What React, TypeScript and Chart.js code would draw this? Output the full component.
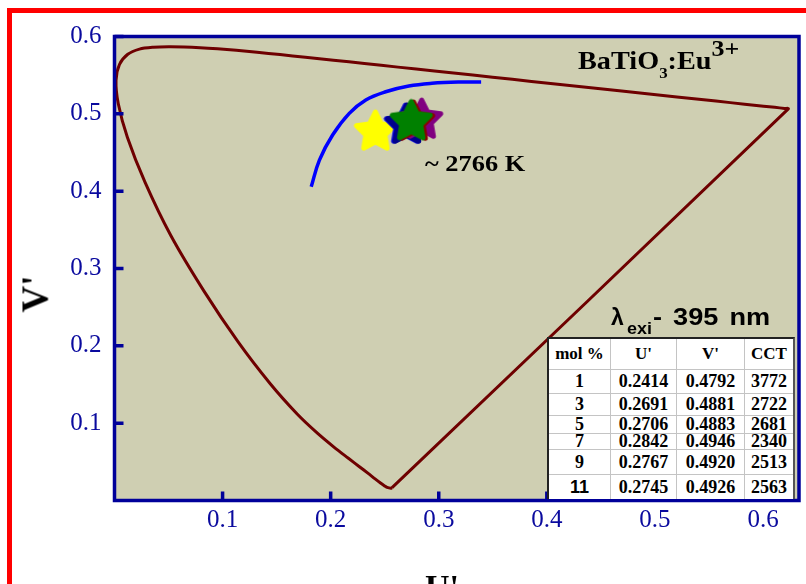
import React, { useEffect, useRef } from 'react';
import { Chart, registerables } from 'chart.js';

Chart.register(...registerables);

// CIE 1976 spectral locus, closed by the purple line
const LOCUS_U = [0.2568, 0.2557, 0.2522, 0.2496, 0.2461, 0.2411, 0.2347, 0.2266, 0.2161, 0.2033, 0.1877, 0.1690, 0.1441, 0.1147, 0.0828, 0.0521, 0.0282, 0.0119, 0.0035, 0.0014, 0.0046, 0.0123, 0.0231, 0.0360, 0.0501, 0.0643, 0.0792, 0.0953, 0.1127, 0.1319, 0.1531, 0.1766, 0.2026, 0.2312, 0.2623, 0.2960, 0.3315, 0.3681, 0.4035, 0.4692, 0.5203, 0.5565, 0.5830, 0.6005, 0.6109, 0.6199, 0.6234, 0.2568];
const LOCUS_V = [0.0166, 0.0159, 0.0169, 0.0191, 0.0226, 0.0279, 0.0350, 0.0437, 0.0549, 0.0688, 0.0871, 0.1119, 0.1510, 0.2044, 0.2708, 0.3427, 0.4117, 0.4698, 0.5131, 0.5432, 0.5638, 0.5770, 0.5837, 0.5861, 0.5868, 0.5865, 0.5856, 0.5841, 0.5821, 0.5796, 0.5766, 0.5732, 0.5694, 0.5651, 0.5604, 0.5554, 0.5501, 0.5446, 0.5393, 0.5296, 0.5219, 0.5165, 0.5125, 0.5099, 0.5084, 0.5070, 0.5065, 0.0166];

// Planckian (blue) arc
const PLANCK_U = [0.182, 0.1896, 0.2018, 0.2172, 0.2325, 0.2509, 0.2723, 0.2937, 0.3182, 0.3392];
const PLANCK_V = [0.4057, 0.4402, 0.4726, 0.5006, 0.5179, 0.5286, 0.5360, 0.5395, 0.5411, 0.5411];

// Samples
const MOL = ['1', '3', '5', '7', '9', '11'];
const SAMPLE_U = [0.2414, 0.2691, 0.2706, 0.2842, 0.2767, 0.2745];
const SAMPLE_V = [0.4792, 0.4881, 0.4883, 0.4946, 0.4920, 0.4926];
const SAMPLE_CCT = [3772, 2722, 2681, 2340, 2513, 2563];
const STAR_COLORS = ['#ffff00', '#0000cd', '#00008b', '#800080', '#8b0000', '#008000'];

const X_TICKS = [0.1, 0.2, 0.3, 0.4, 0.5, 0.6];
const Y_TICKS = [0.1, 0.2, 0.3, 0.4, 0.5, 0.6];
const TABLE_HEAD = ['mol %', "U'", "V'", 'CCT'];

const SERIF = "'Liberation Serif', 'Times New Roman', serif";
const SANS = "'Liberation Sans', Arial, sans-serif";
const AXIS_COLOR = '#00009a';
const TICK_TEXT = '#0a0a9e';
const PLOT_BG = '#cfcfb2';
const LOCUS_COLOR = '#6e0000';

// canvas is wider than the page; the overflow is clipped by the frame wrapper
const W = 822;
const H = 640;
const PLOT = { left: 114.5, top: 36.5, right: 798.8, bottom: 500.5 };

function makeStar(color: string) {
  const c = document.createElement('canvas');
  c.width = 50;
  c.height = 50;
  const g = c.getContext('2d')!;
  g.translate(25, 27);
  g.beginPath();
  for (let i = 0; i < 10; i++) {
    const r = i % 2 === 0 ? 20 : 10;
    const a = -Math.PI / 2 + (i * Math.PI) / 5;
    g.lineTo(r * Math.cos(a), r * Math.sin(a));
  }
  g.closePath();
  g.fillStyle = color;
  g.strokeStyle = color;
  g.lineWidth = 5;
  g.lineJoin = 'round';
  g.fill();
  g.stroke();
  return c;
}

const framePlugin = {
  id: 'frame',
  beforeDraw(chart: any) {
    const { ctx, chartArea: a } = chart;
    ctx.save();
    ctx.fillStyle = PLOT_BG;
    ctx.fillRect(a.left, a.top, a.right - a.left, a.bottom - a.top);
    ctx.restore();
  },
  afterDatasetsDraw(chart: any) {
    const { ctx, chartArea: a, scales } = chart;
    ctx.save();
    ctx.strokeStyle = AXIS_COLOR;
    ctx.lineWidth = 3.5;
    ctx.strokeRect(a.left, a.top, a.right - a.left, a.bottom - a.top);
    ctx.beginPath();
    X_TICKS.forEach((v) => {
      const px = scales.x.getPixelForValue(v);
      ctx.moveTo(px, a.bottom);
      ctx.lineTo(px, a.bottom - 9);
    });
    Y_TICKS.forEach((v) => {
      const py = scales.y.getPixelForValue(v);
      ctx.moveTo(a.left, py);
      ctx.lineTo(a.left + 9, py);
    });
    ctx.stroke();
    ctx.restore();
  },
};

export default function App() {
  const ref = useRef<HTMLCanvasElement>(null);

  useEffect(() => {
    const canvas = ref.current!;
    const stars = STAR_COLORS.map(makeStar);
    const chart = new Chart(canvas, {
      type: 'scatter',
      data: {
        datasets: [
          {
            label: 'Samples',
            data: SAMPLE_U.map((u, i) => ({ x: u, y: SAMPLE_V[i] })),
            pointStyle: stars as any,
            pointRadius: 22,
            showLine: false,
            order: 1,
          },
          {
            label: 'Planckian locus',
            data: PLANCK_U.map((u, i) => ({ x: u, y: PLANCK_V[i] })),
            showLine: true,
            borderColor: '#0000ff',
            borderWidth: 3.5,
            pointRadius: 0,
            tension: 0.4,
            order: 2,
          },
          {
            label: 'Spectral locus',
            data: LOCUS_U.map((u, i) => ({ x: u, y: LOCUS_V[i] })),
            showLine: true,
            borderColor: LOCUS_COLOR,
            borderWidth: 3,
            pointRadius: 0,
            tension: 0.3,
            borderJoinStyle: 'round',
            order: 3,
          },
        ] as any,
      },
      options: {
        animation: false,
        responsive: false,
        devicePixelRatio: 1,
        events: [],
        layout: { padding: { left: 0, top: PLOT.top, right: 7.2, bottom: 0 } },
        plugins: { legend: { display: false }, tooltip: { enabled: false } },
        scales: {
          x: {
            type: 'linear',
            min: 0,
            max: 0.6333,
            afterBuildTicks: (s: any) => {
              s.ticks = X_TICKS.map((v) => ({ value: v }));
            },
            afterFit: (s: any) => {
              s.height = H - PLOT.bottom;
            },
            grid: { display: false, drawTicks: false },
            border: { display: false },
            ticks: {
              font: { family: SERIF, size: 25 },
              color: TICK_TEXT,
              padding: 5,
              maxRotation: 0,
              autoSkip: false,
              callback: (v: any) => Number(v).toFixed(1),
            },
          },
          y: {
            type: 'linear',
            min: 0,
            max: 0.6,
            afterBuildTicks: (s: any) => {
              s.ticks = Y_TICKS.map((v) => ({ value: v }));
            },
            afterFit: (s: any) => {
              s.width = PLOT.left;
            },
            grid: { display: false, drawTicks: false },
            border: { display: false },
            ticks: {
              font: { family: SERIF, size: 25 },
              color: TICK_TEXT,
              padding: 13,
              autoSkip: false,
              callback: (v: any) => Number(v).toFixed(1),
            },
          },
        },
      } as any,
      plugins: [framePlugin],
    });
    // fine-tune the right padding so the plot's right edge lands where the reference has it
    for (let k = 0; k < 3; k++) {
      const d = PLOT.right - chart.chartArea.right;
      if (Math.abs(d) < 0.5) break;
      (chart.options as any).layout.padding.right -= d;
      chart.update();
    }
    return () => chart.destroy();
  }, []);

  const colW = [62, 66, 68, 48];
  const rowH = [31, 24, 22, 18, 16, 25, 24];
  const cellBase = (r: number, c: number): React.CSSProperties => ({
    display: 'flex',
    alignItems: 'center',
    justifyContent: 'center',
    boxSizing: 'border-box',
    borderRight: c < 3 ? '1px solid #c4c4c4' : 'none',
    borderBottom: r < 6 ? '1px solid #c4c4c4' : 'none',
    lineHeight: 1,
    whiteSpace: 'nowrap',
    overflow: 'visible',
    fontWeight: 'bold',
    color: '#000',
  });
  const rows = MOL.map((m, i) => [m, SAMPLE_U[i].toFixed(4), SAMPLE_V[i].toFixed(4), String(SAMPLE_CCT[i])]);

  return (
    <div style={{ position: 'fixed', left: 0, top: 0, width: 806, height: 584, overflow: 'hidden', background: '#fff' }}>
      <div style={{ position: 'absolute', left: 7, top: 8, width: 1000, height: 1000, border: '5px solid #ff0000' }} />
      <canvas ref={ref} width={W} height={H} style={{ position: 'absolute', left: 0, top: 0 }} />

      {/* Axis titles */}
      <div style={{ position: 'absolute', left: 35, top: 294, transform: 'translate(-50%, -50%) rotate(-90deg)', font: `bold 37px ${SERIF}`, lineHeight: '37px', whiteSpace: 'nowrap', color: '#000' }}>V'</div>
      <div style={{ position: 'absolute', left: 425, top: 570, font: `bold 34px ${SERIF}`, lineHeight: '34px', whiteSpace: 'nowrap', color: '#000' }}>U'</div>

      {/* Compound label */}
      <div style={{ position: 'absolute', left: 578, top: 48, font: `bold 25px ${SERIF}`, lineHeight: '25px', whiteSpace: 'nowrap', transform: 'scaleX(1.13)', transformOrigin: 'left top', color: '#000' }}>
        BaTiO<span style={{ fontSize: 15, position: 'relative', top: 9 }}>3</span>:Eu<span style={{ fontSize: 23, position: 'relative', top: -13 }}>3+</span>
      </div>

      {/* CCT annotation */}
      <div style={{ position: 'absolute', left: 425, top: 151, font: `bold 24px ${SERIF}`, lineHeight: '24px', whiteSpace: 'nowrap', transform: 'scaleX(1.1)', transformOrigin: 'left top', color: '#000' }}>~ 2766 K</div>

      {/* Excitation label */}
      <div style={{ position: 'absolute', left: 611, top: 306, font: `bold 23px ${SANS}`, lineHeight: '23px', whiteSpace: 'nowrap', color: '#000' }}>λ</div>
      <div style={{ position: 'absolute', left: 627, top: 320.5, font: `bold 16px ${SANS}`, lineHeight: '16px', whiteSpace: 'nowrap', transform: 'scaleX(1.12)', transformOrigin: 'left top', color: '#000' }}>exi</div>
      <div style={{ position: 'absolute', left: 653, top: 306, font: `bold 23px ${SANS}`, lineHeight: '23px', whiteSpace: 'nowrap', wordSpacing: 3, transform: 'scaleX(1.18)', transformOrigin: 'left top', color: '#000' }}>- 395 nm</div>

      {/* Table */}
      <div
        style={{
          position: 'absolute',
          left: 547,
          top: 337,
          display: 'grid',
          gridTemplateColumns: colW.map((w) => w + 'px').join(' '),
          gridTemplateRows: rowH.map((h) => h + 'px').join(' '),
          background: '#fff',
          borderLeft: '2px solid #222',
          borderTop: '2px solid #222',
          borderRight: '2px solid #555',
        }}
      >
        {TABLE_HEAD.map((t, c) => (
          <div key={'h' + c} style={{ ...cellBase(0, c), font: `bold 17px ${SERIF}` }}>{t}</div>
        ))}
        {rows.map((row, r) =>
          row.map((t, c) => (
            <div
              key={r + '-' + c}
              style={{
                ...cellBase(r + 1, c),
                font: `bold 18px ${c === 0 && t.length > 1 ? SANS : SERIF}`,
              }}
            >
              {t}
            </div>
          ))
        )}
      </div>
    </div>
  );
}
